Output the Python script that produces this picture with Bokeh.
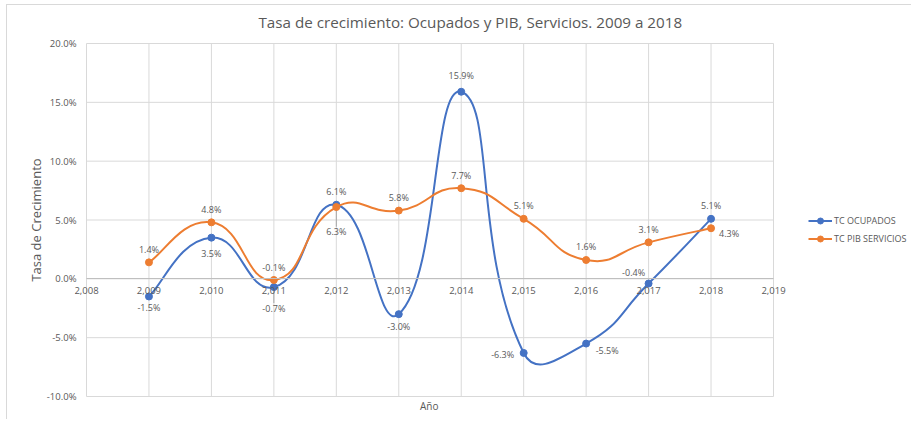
import math
from bokeh.plotting import figure
from bokeh.models import (ColumnDataSource, FixedTicker, PrintfTickFormatter, Legend,
                          LegendItem, Title, InlineStyleSheet)
from bokeh.embed import file_html
from bokeh.resources import INLINE
from bokeh.core.properties import value

# ---------------- data ----------------
years = [2009, 2010, 2011, 2012, 2013, 2014, 2015, 2016, 2017, 2018]
ocupados = [-1.5, 3.5, -0.7, 6.3, -3.0, 15.9, -6.3, -5.5, -0.4, 5.1]
pib_servicios = [1.4, 4.8, -0.1, 6.1, 5.8, 7.7, 5.1, 1.6, 3.1, 4.3]
series_names = ["TC OCUPADOS", "TC PIB SERVICIOS"]
x_ticks = [2008, 2009, 2010, 2011, 2012, 2013, 2014, 2015, 2016, 2017, 2018, 2019]
x_tick_labels = ["2,008", "2,009", "2,010", "2,011", "2,012", "2,013",
                 "2,014", "2,015", "2,016", "2,017", "2,018", "2,019"]
y_ticks = [-10, -5, 0, 5, 10, 15, 20]
title_text = "Tasa de crecimiento: Ocupados y PIB, Servicios. 2009 a 2018"
y_label = "Tasa de Crecimiento"
x_label = "Año"

# ---------------- label placement (px, +down) ----------------
ocup_dx = [0, 0, 0, 0, 0, 0, -21, 21, -15, 0]
ocup_dy = [11, 16, 21, 27, 12, -16, 2, 7, -11, -13]
ocup_leader = [0, 0, 1, 1, 0, 0, 0, 0, 0, 0]
pib_dx = [0, 0, 0, 0, 0, 0, 0, 0, 0, 18]
pib_dy = [-13, -13, -13, -16, -13, -13, -13, -14, -13, 5]

# ---------------- layout (canvas pixels) ----------------
W, H = 912, 420
PLOT_L, PLOT_R, PLOT_T, PLOT_B = 86, 773, 43, 396     # plot area (gridded box)
FRAME_L, FRAME_R, FRAME_T, FRAME_B = 74, W, 41, 398    # bokeh frame (slightly larger)
X0, X1 = x_ticks[0], x_ticks[-1]
Y0, Y1 = y_ticks[0], y_ticks[-1]
SX = (PLOT_R - PLOT_L) / (X1 - X0)
SY = (PLOT_B - PLOT_T) / (Y1 - Y0)
x_range = (X0 - (PLOT_L - FRAME_L) / SX, X1 + (FRAME_R - PLOT_R) / SX)
y_range = (Y0 - (FRAME_B - PLOT_B) / SY, Y1 + (PLOT_T - FRAME_T) / SY)

BLUE = "#4472C4"
ORANGE = "#ED7D31"
GREY = "#595959"
GRID = "#d9d9d9"
FONT = "Open Sans"


def smooth_segments(xs, ys):
    """Excel-like smoothed line: cubic Bezier control points (screen-space tangents)."""
    px = [x * SX for x in xs]
    py = [y * SY for y in ys]
    n = len(xs)
    seg = [math.hypot(px[i + 1] - px[i], py[i + 1] - py[i]) for i in range(n - 1)]
    out = {k: [] for k in ("x0", "y0", "x1", "y1", "cx0", "cy0", "cx1", "cy1")}
    for i in range(n - 1):
        a, b = max(i - 1, 0), i + 1
        dprev = seg[i - 1] if i > 0 else seg[i]
        k0 = 0.5 * seg[i] / (dprev + seg[i])
        c0x = px[i] + (px[b] - px[a]) * k0
        c0y = py[i] + (py[b] - py[a]) * k0
        a2, b2 = i, min(i + 2, n - 1)
        dnext = seg[i + 1] if i + 1 < n - 1 else seg[i]
        k1 = 0.5 * seg[i] / (seg[i] + dnext)
        c1x = px[i + 1] - (px[b2] - px[a2]) * k1
        c1y = py[i + 1] - (py[b2] - py[a2]) * k1
        out["x0"].append(xs[i]); out["y0"].append(ys[i])
        out["x1"].append(xs[i + 1]); out["y1"].append(ys[i + 1])
        out["cx0"].append(c0x / SX); out["cy0"].append(c0y / SY)
        out["cx1"].append(c1x / SX); out["cy1"].append(c1y / SY)
    return out


p = figure(width=W, height=H, x_range=x_range, y_range=y_range,
           output_backend="svg", toolbar_location=None,
           min_border_left=FRAME_L, min_border_right=W - FRAME_R,
           min_border_top=FRAME_T, min_border_bottom=H - FRAME_B)
p.background_fill_color = "white"
p.border_fill_color = "white"
p.outline_line_color = None
p.grid.visible = False
p.stylesheets = [InlineStyleSheet(css=(
    ":host::after { content: ''; position: absolute; left: 6px; top: 4px; "
    "width: 904px; height: 414px; border-left: 1px solid #d9d9d9; "
    "border-top: 1px solid #d9d9d9; pointer-events: none; z-index: 50; }"))]

# title
p.title.text = title_text
p.title.align = "left"
p.title.offset = 184
p.title.text_font = FONT
p.title.text_font_size = "15.2px"
p.title.text_font_style = "normal"
p.title.text_color = GREY
p.title.standoff = 19

# gridlines of the plot area
p.segment(x0=x_ticks, y0=[Y0] * len(x_ticks), x1=x_ticks, y1=[Y1] * len(x_ticks),
          line_color=GRID, line_width=1)
p.segment(x0=[X0] * len(y_ticks), y0=y_ticks, x1=[X1] * len(y_ticks), y1=y_ticks,
          line_color=GRID, line_width=1)

# x axis crossing at zero
p.xaxis.ticker = FixedTicker(ticks=x_ticks)
p.xaxis.major_label_overrides = dict(zip(x_ticks, x_tick_labels))
p.xaxis.fixed_location = 0
p.xaxis.bounds = (X0, X1)
p.xaxis.axis_line_color = "#bfbfbf"
p.xaxis.major_tick_line_color = None
p.xaxis.minor_tick_line_color = None
p.xaxis.major_label_standoff = 2
p.xaxis.major_label_text_font = FONT
p.xaxis.major_label_text_font_size = "9.5px"
p.xaxis.major_label_text_color = GREY

p.yaxis.ticker = FixedTicker(ticks=y_ticks)
p.yaxis.formatter = PrintfTickFormatter(format="%.1f%%")
p.yaxis.axis_line_color = None
p.yaxis.major_tick_line_color = None
p.yaxis.minor_tick_line_color = None
p.yaxis.major_label_standoff = -8
p.yaxis.major_label_text_font = FONT
p.yaxis.major_label_text_font_size = "9.5px"
p.yaxis.major_label_text_color = GREY
p.yaxis.axis_label = y_label
p.yaxis.axis_label_text_font = FONT
p.yaxis.axis_label_text_font_size = "13px"
p.yaxis.axis_label_text_font_style = "normal"
p.yaxis.axis_label_text_color = GREY
p.yaxis.axis_label_standoff = -1

p.add_layout(Title(text=x_label, align="left", offset=(PLOT_L + PLOT_R) / 2 - FRAME_L - 10,
                   text_font=FONT, text_font_size="10px",
                   text_font_style="normal", text_color=GREY, standoff=-3), "below")

# leader lines for displaced labels
lead_x = [x for x, f in zip(years, ocup_leader) if f]
lead_y0 = [v - 4 / SY for v, f in zip(ocupados, ocup_leader) if f]
lead_y1 = [v - (d - 5) / SY for v, d, f in zip(ocupados, ocup_dy, ocup_leader) if f]
p.segment(x0=lead_x, y0=lead_y0, x1=lead_x, y1=lead_y1, line_color="#a6a6a6", line_width=1)

leg_items = []
for name, vals, color, dx, dy in ((series_names[0], ocupados, BLUE, ocup_dx, ocup_dy),
                                  (series_names[1], pib_servicios, ORANGE, pib_dx, pib_dy)):
    segs = ColumnDataSource(smooth_segments(years, vals))
    bz = p.bezier(x0="x0", y0="y0", x1="x1", y1="y1", cx0="cx0", cy0="cy0", cx1="cx1", cy1="cy1",
                  source=segs, line_color=color, line_width=2)
    pts = ColumnDataSource(dict(x=years, y=vals, label=[f"{v:.1f}%" for v in vals], dx=dx, dy=dy))
    sc = p.scatter(x="x", y="y", source=pts, size=7, marker="circle", fill_color=color, line_color=color)
    p.text(x="x", y="y", text="label", x_offset="dx", y_offset="dy", source=pts,
           text_align="center", text_baseline="middle", text_font=value(FONT),
           text_font_size="9px", text_color=GREY)
    leg_items.append(LegendItem(label=name, renderers=[bz, sc]))

legend = Legend(items=leg_items, location=(808 - FRAME_L, FRAME_B - 246), orientation="vertical",
                label_text_font=FONT, label_text_font_size="9px", label_text_color=GREY,
                glyph_width=24, glyph_height=15, label_height=15, label_standoff=2,
                spacing=3, padding=0, margin=0, border_line_color=None,
                background_fill_alpha=0)
p.add_layout(legend, "center")

open("out.html", "w").write(file_html(p, INLINE))
